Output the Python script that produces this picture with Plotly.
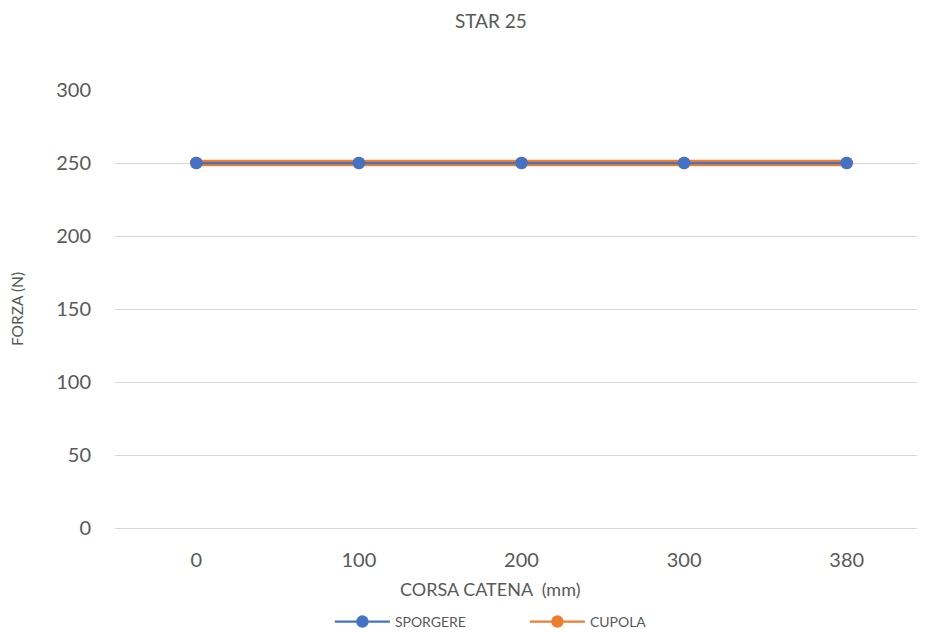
import plotly.graph_objects as go

categories = ["0", "100", "200", "300", "380"]
sporgere = [250, 250, 250, 250, 250]
cupola = [250, 250, 250, 250, 250]
y_ticks = [0, 50, 100, 150, 200, 250, 300]
x_title = "CORSA CATENA  (mm)"
y_title = "FORZA (N)"
chart_title = "STAR 25"

BLUE = "#4472C4"
ORANGE = "#ED7D31"
TXT = "#595959"
GRID = "#D9D9D9"
FONT = "Lato, Open Sans, sans-serif"

fig = go.Figure()
# wide orange band under (no legend)
fig.add_trace(go.Scatter(x=categories, y=cupola, mode="lines", showlegend=False,
                         line=dict(color=ORANGE, width=6.5), hoverinfo="skip"))
fig.add_trace(go.Scatter(x=categories, y=cupola, mode="lines+markers", name="CUPOLA",
                         line=dict(color=ORANGE, width=2.25),
                         marker=dict(color=ORANGE, size=12.5), legendrank=2))
fig.add_trace(go.Scatter(x=categories, y=sporgere, mode="lines+markers", name="SPORGERE",
                         line=dict(color=BLUE, width=2.25),
                         marker=dict(color=BLUE, size=12.5), legendrank=1))

fig.update_layout(
    width=925, height=632,
    paper_bgcolor="white", plot_bgcolor="white",
    margin=dict(l=107, r=5, t=82, b=112),
    font=dict(family=FONT, color=TXT),
    title=dict(text=chart_title, x=0.522, xref="container", y=0.979, yref="container",
               xanchor="center", yanchor="middle",
               font=dict(size=19, color=TXT, family=FONT)),
    xaxis=dict(type="category", range=[-0.5, 4.5], showgrid=False,
               showline=True, linecolor=GRID, linewidth=1, ticks="",
               tickfont=dict(size=20, color=TXT), ticklabelstandoff=14,
               zeroline=False),
    yaxis=dict(range=[0, 300], tickvals=y_ticks, showgrid=True, gridcolor=GRID, gridwidth=1,
               zeroline=False, showline=False, ticks="",
               tickfont=dict(size=20, color=TXT), ticklabelstandoff=23,
               title=dict(text=y_title, font=dict(size=15.5, color=TXT), standoff=29)),
    legend=dict(orientation="h", xref="container", yref="container",
                x=0.348, xanchor="left", y=0.0285, yanchor="middle",
                font=dict(size=14, color=TXT), traceorder="normal",
                itemwidth=55, entrywidth=125, bgcolor="rgba(0,0,0,0)"),
    showlegend=True,
    annotations=[dict(text=x_title, xref="paper", yref="paper", x=0.4613, y=-0.1393,
                      xanchor="center", yanchor="middle", showarrow=False,
                      font=dict(size=18, color=TXT, family=FONT))],
)

fig.write_html("out.html")
